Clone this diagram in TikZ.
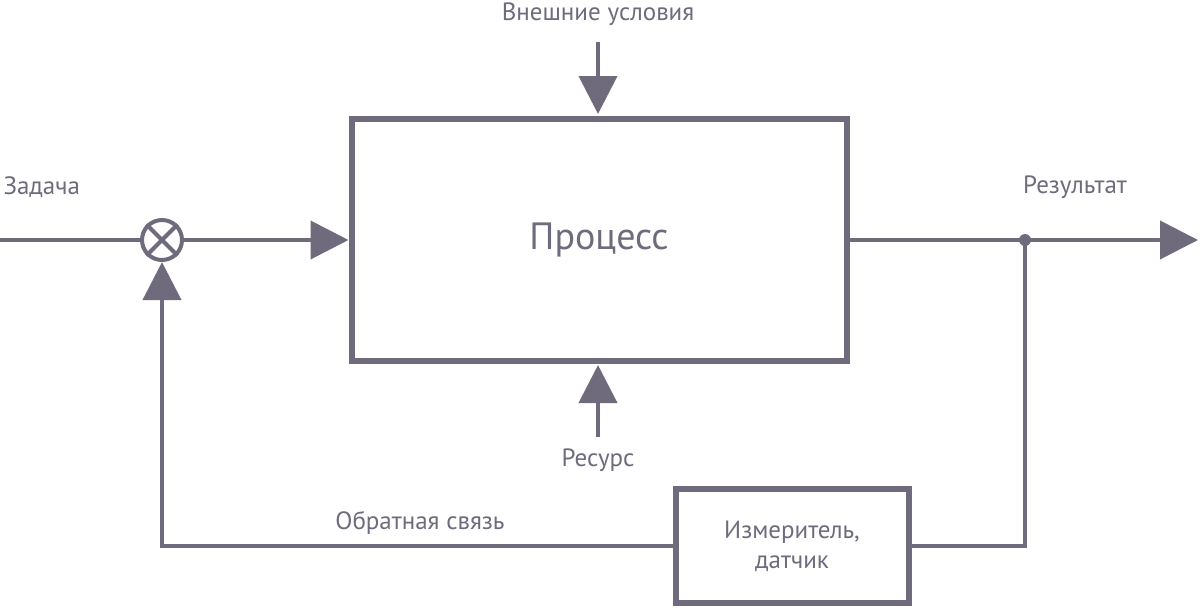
\documentclass[tikz,border=0pt]{standalone}
\usepackage{fontspec}
\setmainfont{PT Sans}
\usetikzlibrary{arrows.meta}
\definecolor{ink}{HTML}{6F6A7C}
\begin{document}
\begin{tikzpicture}[x=1pt,y=-1pt,
  line/.style={draw=ink,line width=4pt},
  arr/.style={line,-{Triangle[length=38pt,width=38pt]}},
  lbl/.style={text=ink,font=\fontsize{25}{30}\selectfont},
  boxs/.style={draw=ink,line width=6pt,inner sep=0pt}]
\useasboundingbox (0,0) rectangle (1200,608);
\node[boxs,minimum width=495pt,minimum height=242pt] (proc) at (599,240) {};
\node[lbl,font=\fontsize{38}{44}\selectfont] at (proc) {Процесс};
\node[boxs,minimum width=233pt,minimum height=114pt,align=center,lbl] (meas) at (792,546) {Измеритель,\\датчик};
\node[draw=ink,line width=4pt,circle,minimum size=40pt,inner sep=0pt] (sum) at (162,240) {};
\draw[line] (sum.north west) -- (sum.south east) (sum.north east) -- (sum.south west);
\coordinate (in) at (0,240);
\coordinate (out) at (1198,240);
\coordinate (tap) at (1025,240);
\coordinate (top) at (598,42);
\coordinate (bot) at (598,437);
\draw[line] (in) -- (sum);
\draw[arr] (sum) -- (proc.west);
\draw[arr] (proc.east) -- (out);
\fill[ink] (tap) circle (6pt);
\draw[arr] (top) -- (598,114);
\draw[arr] (bot) -- (598,365);
\draw[line] (tap) |- (meas.east);
\draw[arr] (meas.west) -| (sum.south);
\node[lbl] at (598,14) {Внешние условия};
\node[lbl] at (598,460) {Ресурс};
\node[lbl,anchor=west] at (0,187) {Задача};
\node[lbl] at (1075,187) {Результат};
\node[lbl] at (420,523) {Обратная связь};
\end{tikzpicture}
\end{document}
